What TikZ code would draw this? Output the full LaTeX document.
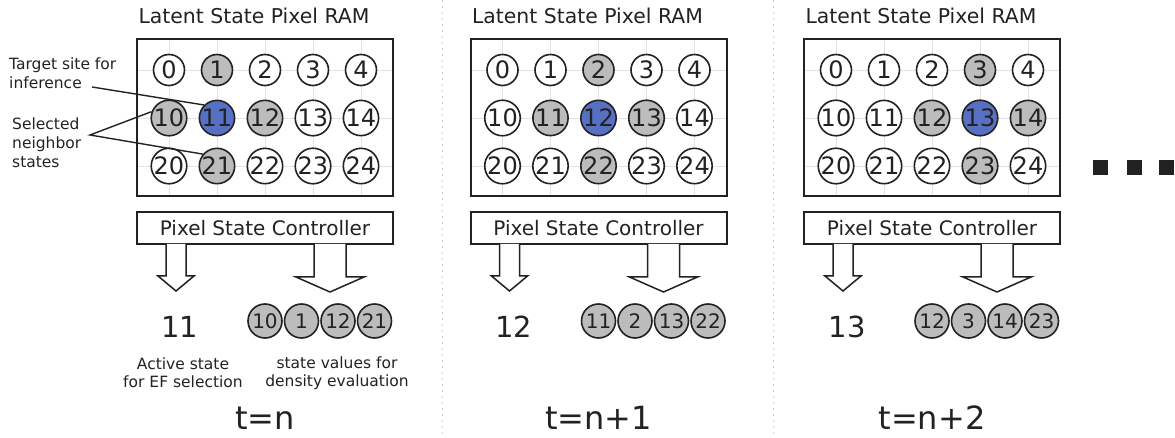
\documentclass[tikz,border=0pt]{standalone}
\usepackage{fontspec}
\setmainfont{DejaVu Sans}
\usepackage{tikz}

\definecolor{nbgray}{RGB}{188,188,188}
\definecolor{tgtblue}{RGB}{88,112,196}
\definecolor{inkgray}{RGB}{34,34,34}

\tikzset{
  cell/.style={circle, draw=inkgray, line width=1.6pt, fill=white, text=inkgray,
    minimum size=31pt, inner sep=0pt, font=\fontsize{24}{24}\selectfont},
  nbcell/.style={cell, fill=nbgray},
  tgtcell/.style={cell, fill=tgtblue},
  valcell/.style={nbcell, minimum size=34pt, font=\fontsize{20}{20}\selectfont},
  ramgrid/.style={draw=gray!22, line width=0.8pt},
  panelbox/.style={draw=inkgray, line width=2pt, fill=none},
  blockarrow/.style={draw=inkgray, line width=1.5pt, fill=white, line join=miter},
  ramtitle/.style={text=inkgray, font=\fontsize{20.4}{22}\selectfont},
  ctltext/.style={text=inkgray, font=\fontsize{20}{22}\selectfont},
  bignum/.style={text=inkgray, font=\fontsize{29}{29}\selectfont},
  tlabel/.style={text=inkgray, inner sep=1pt, font=\fontsize{32}{32}\selectfont},
  caption/.style={text=inkgray, align=center, font=\fontsize{15.5}{18}\selectfont},
  note/.style={text=inkgray, align=left, inner sep=0pt, font=\fontsize{15.5}{19}\selectfont},
  noteline/.style={draw=inkgray, line width=1.4pt},
  sepline/.style={draw=gray!35, line width=0.6pt, dash pattern=on 2pt off 4pt}
}

\begin{document}
\begin{tikzpicture}[x=1pt, y=-1pt]
  \useasboundingbox (0,0) rectangle (1175,438);

  % separators between time steps
  \draw[sepline] (442,0) -- (442,438);
  \draw[sepline] (773,0) -- (773,438);

  \foreach \p/\tgt/\tlab in {0/11/n, 1/12/n+1, 2/13/n+2} {
    \begin{scope}[xshift=\p*333.5pt]
      \node[ramtitle, anchor=west] (title\p) at (135,16) {Latent State Pixel RAM};
      % pixel RAM grid
      \foreach \c in {0,...,4}
        \draw[ramgrid] ({169+48*\c},40) -- ({169+48*\c},195);
      \foreach \r in {0,1,2}
        \draw[ramgrid] (138,{70+48*\r}) -- (392,{70+48*\r});
      \node[panelbox, minimum width=256, minimum height=157] (ram\p) at (265,117.5) {};
      \foreach \r in {0,1,2} {
        \foreach \c in {0,...,4} {
          \pgfmathtruncatemacro\n{10*\r+\c}
          \pgfmathtruncatemacro\dd{abs(\n-\tgt)}
          \def\cstyle{cell}
          \ifnum\dd=1 \def\cstyle{nbcell}\fi
          \ifnum\dd=10 \def\cstyle{nbcell}\fi
          \ifnum\dd=0 \def\cstyle{tgtcell}\fi
          \node[\cstyle] (c\p-\n) at ({169+48*\c},{70+48*\r}) {\n};
        }
      }
      % controller and its two outputs
      \node[panelbox, minimum width=256, minimum height=32, ctltext] (ctl\p) at (265,228) {Pixel State Controller};
      \draw[blockarrow] (166,244) -- ++(0,32) -- ++(-8,0) -- ++(18,15)
        -- ++(18,-15) -- ++(-8,0) -- ++(0,-32);
      \draw[blockarrow] (314,244) -- ++(0,33) -- ++(-18,0) -- ++(34,15)
        -- ++(34,-15) -- ++(-18,0) -- ++(0,-33);
      \node[bignum] (act\p) at (180,327) {\tgt};
      \foreach \k/\d in {0/-1, 1/-10, 2/1, 3/10} {
        \pgfmathtruncatemacro\m{\tgt+\d}
        \node[valcell] (v\p-\k) at ({265+36.5*\k},321) {\m};
      }
      \node[tlabel] (t\p) at (265,418) {t=\tlab};
    \end{scope}
  }

  % captions under the first step
  \node[caption] (actcap) at (183,373) {Active state\\for EF selection};
  \node[caption] (valcap) at (337,373) {state values for\\density evaluation};

  % notes on the left
  \node[note, anchor=north west] (tgtnote) at (9,58) {Target site for\\inference};
  \node[note, anchor=north west] (nbnote) at (12,118) {Selected\\neighbor\\states};
  \coordinate (tgtfoot) at (92,87);
  \coordinate (nbfoot) at (90,135);
  \draw[noteline] (tgtfoot) -- (c0-11.135);
  \draw[noteline] (c0-10.160) -- (nbfoot) -- (c0-21.140);

  % more steps follow
  \foreach \x in {1100,1134,1166}
    \fill[inkgray] ({\x-7.5},160.5) rectangle ++(15,15);
\end{tikzpicture}
\end{document}
